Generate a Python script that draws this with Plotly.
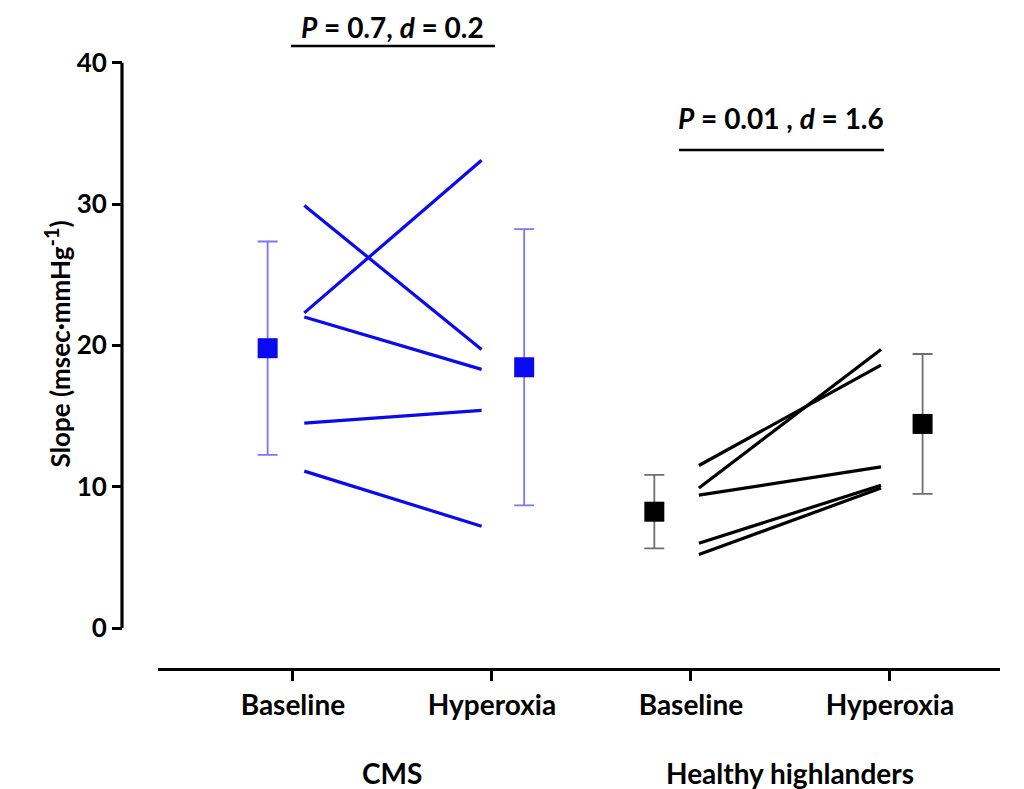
import plotly.graph_objects as go

# ---- data ----
categories = ["Baseline", "Hyperoxia", "Baseline", "Hyperoxia"]
groups = ["CMS", "Healthy highlanders"]

cms_baseline = [29.9, 22.3, 22.0, 14.5, 11.1]
cms_hyperoxia = [19.7, 33.1, 18.3, 15.4, 7.2]
hh_baseline = [11.5, 9.9, 9.4, 6.0, 5.2]
hh_hyperoxia = [18.6, 19.7, 11.4, 10.1, 9.9]

cms_mean = [19.8, 18.45]
cms_sd = [7.55, 9.77]
hh_mean = [8.23, 14.44]
hh_sd = [2.6, 4.95]

stats_text = ["<i>P</i> = 0.7, <i>d</i> = 0.2", "<i>P</i> = 0.01 , <i>d</i> = 1.6"]
stats_line_y = [41.19, 33.83]
stats_text_y = [42.55, 36.09]

yticks = [0, 10, 20, 30, 40]

# ---- styles ----
FONT = "Lato"
BLUE = "#0a0af0"
BLUE_ERR = "#7777ff"
BLACK = "#000000"
GREY_ERR = "#6e6e6e"

cat_x = [1, 2, 3, 4]
line_x = {"cms": [1.057, 1.948], "hh": [3.04, 3.955]}
mean_x = {"cms": [0.873, 2.162], "hh": [2.816, 4.164]}
stat_bar_x = [(0.99, 2.015), (2.94, 3.97)]

fig = go.Figure()

for b, h in zip(cms_baseline, cms_hyperoxia):
    fig.add_trace(go.Scatter(x=line_x["cms"], y=[b, h], mode="lines",
                             line=dict(color=BLUE, width=3.2), showlegend=False,
                             hoverinfo="skip"))
for b, h in zip(hh_baseline, hh_hyperoxia):
    fig.add_trace(go.Scatter(x=line_x["hh"], y=[b, h], mode="lines",
                             line=dict(color=BLACK, width=3.2), showlegend=False,
                             hoverinfo="skip"))

fig.add_trace(go.Scatter(x=mean_x["cms"], y=cms_mean, mode="markers",
                         marker=dict(symbol="square", size=20, color=BLUE),
                         error_y=dict(type="data", array=cms_sd, visible=True,
                                      color=BLUE_ERR, thickness=1.8, width=10),
                         showlegend=False))
fig.add_trace(go.Scatter(x=mean_x["hh"], y=hh_mean, mode="markers",
                         marker=dict(symbol="square", size=20, color=BLACK),
                         error_y=dict(type="data", array=hh_sd, visible=True,
                                      color=GREY_ERR, thickness=1.8, width=10),
                         showlegend=False))

# y-axis line spanning only 0..40
fig.add_shape(type="line", xref="paper", yref="y", x0=0, x1=0,
              y0=yticks[0], y1=yticks[-1], line=dict(color="black", width=3.2))

# significance bars and text
for (xa, xb), ly, ty, txt in zip(stat_bar_x, stats_line_y, stats_text_y, stats_text):
    fig.add_shape(type="line", xref="x", yref="y", x0=xa, x1=xb,
                  y0=ly, y1=ly, line=dict(color="black", width=2.5))
    fig.add_annotation(x=(xa + xb) / 2, y=ty, xref="x", yref="y", text=f"<b>{txt}</b>",
                       showarrow=False, font=dict(family=FONT, size=28, color="black"))

# group labels
pairs = [(cat_x[0], cat_x[1]), (cat_x[2], cat_x[3])]
for (xa, xb), g in zip(pairs, groups):
    fig.add_annotation(x=(xa + xb) / 2, y=-0.1596, xref="x", yref="paper",
                       text=f"<b>{g}</b>", showarrow=False, yanchor="middle",
                       font=dict(family=FONT, size=28, color="black"))

# y title
fig.add_annotation(x=-0.0957, y=(628 - 344) / 14.13, xref="paper", yref="y",
                   text="<b>Slope (msec·mmHg<sup><span style='font-size:20px'>-1</span></sup>)</b>",
                   textangle=-90, showarrow=False,
                   font=dict(family=FONT, size=26, color="black"))

fig.update_layout(
    width=1016, height=781,
    margin=dict(l=114, r=24, t=2, b=121),
    plot_bgcolor="white", paper_bgcolor="white",
    font=dict(family=FONT, color="black"),
    xaxis=dict(range=[0.322, 4.553], domain=[0.041, 1], tickvals=cat_x,
               ticktext=[f"<b>{c}</b>" for c in categories],
               showline=True, linecolor="black", linewidth=3,
               ticks="outside", ticklen=10, tickwidth=2.5, tickcolor="black",
               tickfont=dict(family=FONT, size=28), showgrid=False, zeroline=False),
    yaxis=dict(range=[-2.83, 43.73], anchor="free", position=0,
               tickvals=yticks, ticktext=[f"<b>{v}</b>" for v in yticks],
               ticks="outside", ticklen=10, tickwidth=2.5, tickcolor="black",
               tickfont=dict(family=FONT, size=26), showline=False,
               showgrid=False, zeroline=False),
)

fig.write_html("out.html")
